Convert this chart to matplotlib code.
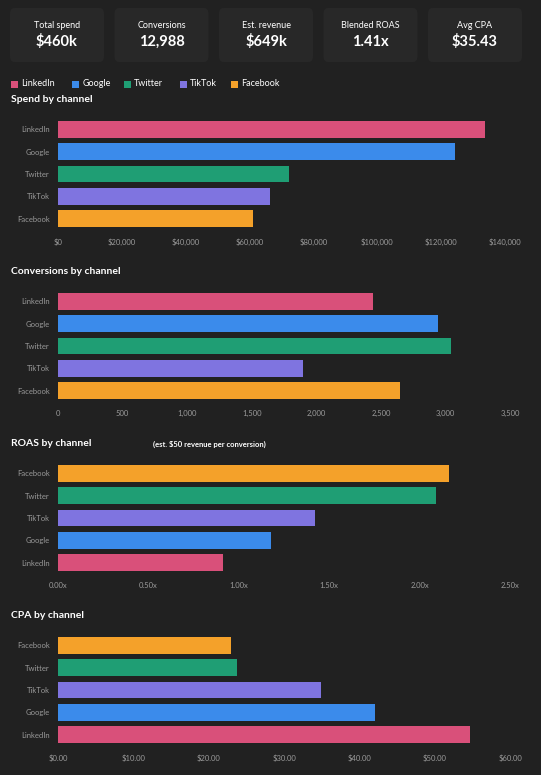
import matplotlib
matplotlib.use("Agg")
import matplotlib.pyplot as plt
from matplotlib.patches import FancyBboxPatch
from matplotlib.ticker import FuncFormatter

channels = ["LinkedIn", "Google", "Twitter", "TikTok", "Facebook"]
colors = {"LinkedIn": "#d9507a", "Google": "#3b8beb", "Twitter": "#1f9e74", "TikTok": "#7f74e0", "Facebook": "#f4a12a"}
spend = [133700, 124300, 72300, 66400, 61000]
conversions = [2439, 2942, 3044, 1897, 2648]
roas_order = ["Facebook", "Twitter", "TikTok", "Google", "LinkedIn"]
roas = [2.16, 2.09, 1.42, 1.18, 0.91]
cpa_order = ["Facebook", "Twitter", "TikTok", "Google", "LinkedIn"]
cpa = [23.0, 23.8, 34.9, 42.1, 54.7]
kpi_labels = ["Total spend", "Conversions", "Est. revenue", "Blended ROAS", "Avg CPA"]
kpi_values = ["$460k", "12,988", "$649k", "1.41x", "$35.43"]

W, H = 541, 775
bg = "#212121"
fig = plt.figure(figsize=(W/100, H/100), dpi=100, facecolor=bg)
plt.rcParams['font.family'] = ['Lato', 'DejaVu Sans']

def fx(x): return x / W
def fy(y): return 1 - y / H

# KPI cards
cw, gap, x0 = 94, 10.5, 10
for i, (l, v) in enumerate(zip(kpi_labels, kpi_values)):
    cx = x0 + i * (cw + gap)
    fig.patches.append(FancyBboxPatch((fx(cx), fy(62)), fx(cw), 54/H, boxstyle="round,pad=0,rounding_size=0.008",
                                      transform=fig.transFigure, facecolor="#282828", edgecolor="none"))
    fig.text(fx(cx + cw/2), fy(25), l, color="white", fontsize=6.5, ha="center", va="center")
    fig.text(fx(cx + cw/2), fy(42), v, color="white", fontsize=10.5, fontweight="bold", ha="center", va="center")

# legend
lx = 11
for c in channels:
    fig.patches.append(plt.Rectangle((fx(lx), fy(88)), fx(7), 7/H, transform=fig.transFigure, facecolor=colors[c]))
    t = fig.text(fx(lx + 10), fy(84), c, color="white", fontsize=6.5, ha="left", va="center")
    lx += 10 + len(c) * 4.9 + 12

def panel(top, title, cats, vals, xmax, ticks, fmt, sub=None):
    ax = fig.add_axes([fx(58), fy(top + 112), fx(452), 112/H])
    ax.set_facecolor(bg)
    ax.barh(range(len(cats)), vals, height=0.75, color=[colors[c] for c in cats])
    ax.set_ylim(len(cats) - 0.5, -0.5)
    ax.set_xlim(0, xmax)
    ax.set_yticks(range(len(cats)))
    ax.set_yticklabels(cats)
    ax.set_xticks(ticks)
    ax.xaxis.set_major_formatter(FuncFormatter(fmt))
    ax.tick_params(colors="#9a9a9a", labelsize=5.5, length=0, pad=6)
    for s in ax.spines.values():
        s.set_visible(False)
    fig.text(fx(11), fy(top - 18), title, color="white", fontsize=7.5, fontweight="bold", ha="left", va="center")
    if sub:
        fig.text(fx(153), fy(top - 18), sub, color="white", fontsize=5.5, fontweight="bold", ha="left", va="center")
    return ax

panel(118, "Spend by channel", channels, spend, 141600, range(0, 140001, 20000), lambda v, p: f"${v:,.0f}")
panel(290, "Conversions by channel", channels, conversions, 3500, range(0, 3501, 500), lambda v, p: f"{v:,.0f}")
panel(462, "ROAS by channel", roas_order, roas, 2.5, [0, 0.5, 1, 1.5, 2, 2.5], lambda v, p: f"{v:.2f}x",
      sub="(est. $50 revenue per conversion)")
panel(634, "CPA by channel", cpa_order, cpa, 60, range(0, 61, 10), lambda v, p: f"${v:.2f}")

fig.savefig("out.png", dpi=100, facecolor=bg)
